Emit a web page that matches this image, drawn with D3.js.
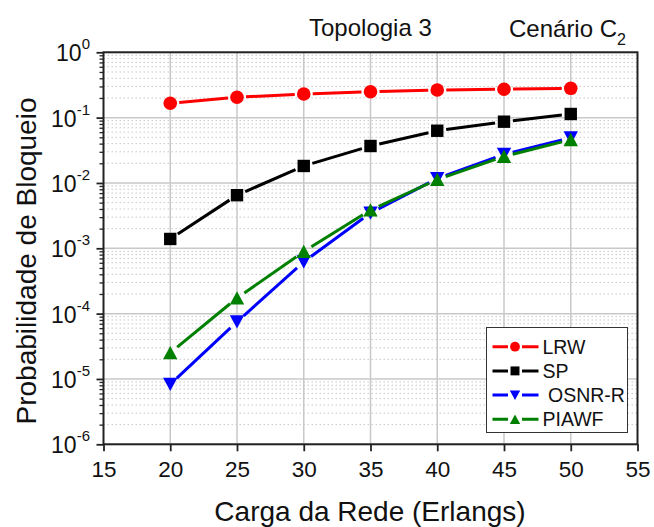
<!DOCTYPE html>
<html><head><meta charset="utf-8">
<script src="https://cdn.jsdelivr.net/npm/d3@7"></script>
<style>body{margin:0;background:#fff}svg{display:block;font-family:"Liberation Sans",Arial,sans-serif}</style>
</head><body><svg id="c" width="654" height="527"></svg>
<script>
const loads = [20, 25, 30, 35, 40, 45, 50];
const lrw   = [0.166, 0.205, 0.230, 0.249, 0.265, 0.272, 0.281];
const sp    = [0.00139, 0.0065, 0.0182, 0.0368, 0.063, 0.0867, 0.1137];
const osnr  = [8.3e-6, 7.5e-5, 6.2e-4, 3.47e-3, 0.0117, 0.0275, 0.049];
const piawf = [2.52e-5, 1.73e-4, 8.9e-4, 3.85e-3, 0.0113, 0.0255, 0.046];
const seriesNames = ["LRW", "SP", "OSNR-R", "PIAWF"];
const xTicks = [15, 20, 25, 30, 35, 40, 45, 50, 55];
const yExps = [0, -1, -2, -3, -4, -5, -6];

const series = [
  {name: seriesNames[0], vals: lrw,   color: "#ff0000", sym: "circle"},
  {name: seriesNames[1], vals: sp,    color: "#000000", sym: "square"},
  {name: seriesNames[2], vals: osnr,  color: "#0000ff", sym: "down"},
  {name: seriesNames[3], vals: piawf, color: "#008000", sym: "up"}
];

const L = 103.5, R = 637.5, T = 52.3, B = 444.3;
const x = d3.scaleLinear().domain([15, 55]).range([L, R]);
const y = d3.scaleLog().domain([1e-6, 1]).range([B, T]);
const svg = d3.select("#c");
const gridCol = "#c8c8c8";

// minor y grid (dotted)
const minorVals = [];
for (let e = -6; e < 0; e++) for (let m = 2; m <= 9; m++) minorVals.push(m * Math.pow(10, e));
svg.append("g").selectAll("line").data(minorVals).join("line")
  .attr("x1", L).attr("x2", R).attr("y1", d => y(d)).attr("y2", d => y(d))
  .attr("stroke", gridCol).attr("stroke-width", 1).attr("stroke-dasharray", "1.5,2.5");
// major y grid
svg.append("g").selectAll("line").data(yExps.map(e => Math.pow(10, e))).join("line")
  .attr("x1", L).attr("x2", R).attr("y1", d => y(d)).attr("y2", d => y(d))
  .attr("stroke", gridCol).attr("stroke-width", 1.5);
// vertical grid
svg.append("g").selectAll("line").data(xTicks.slice(1, -1)).join("line")
  .attr("x1", d => x(d)).attr("x2", d => x(d)).attr("y1", T).attr("y2", B)
  .attr("stroke", gridCol).attr("stroke-width", 1.5);

// axes
const xAxis = d3.axisBottom(x).tickValues(xTicks).tickSize(7).tickPadding(5).tickFormat(d3.format("d"));
const gx = svg.append("g").attr("transform", `translate(0,${B})`).call(xAxis);
gx.select(".domain").remove();
gx.selectAll(".tick line").attr("stroke", "#222").attr("stroke-width", 1.8);
gx.selectAll(".tick text").attr("font-size", 22.5).attr("fill", "#111")
  .attr("font-family", "Liberation Sans, Arial, sans-serif").attr("dy", "0.9em");

const yAxis = d3.axisLeft(y).tickValues(minorVals).tickSize(4).tickFormat("");
const gy = svg.append("g").attr("transform", `translate(${L},0)`).call(yAxis);
gy.select(".domain").remove();
gy.selectAll(".tick line").attr("stroke", "#222").attr("stroke-width", 1.3);
const yAxisMaj = d3.axisLeft(y).tickValues(yExps.map(e => Math.pow(10, e))).tickSize(7).tickFormat("");
const gy2 = svg.append("g").attr("transform", `translate(${L},0)`).call(yAxisMaj);
gy2.select(".domain").remove();
gy2.selectAll(".tick line").attr("stroke", "#222").attr("stroke-width", 1.8);
// y tick labels with superscripts
const yl = svg.append("g").selectAll("text").data(yExps).join("text")
  .attr("x", 90).attr("y", d => y(Math.pow(10, d)) + 9)
  .attr("text-anchor", "end").attr("font-size", 23).attr("fill", "#111");
yl.append("tspan").text("10");
yl.append("tspan").attr("font-size", 15).attr("dy", -12).text(d => d === 0 ? "0" : "-" + (-d));

// frame
svg.append("rect").attr("x", L).attr("y", T).attr("width", R - L).attr("height", B - T)
  .attr("fill", "none").attr("stroke", "#222").attr("stroke-width", 2);

// symbols
function drawSym(g, sym, cx, cy, col, s) {
  if (sym === "circle") g.append("circle").attr("cx", cx).attr("cy", cy).attr("r", 6.8 * s).attr("fill", col);
  else if (sym === "square") g.append("rect").attr("x", cx - 6.2 * s).attr("y", cy - 6.2 * s)
    .attr("width", 12.4 * s).attr("height", 12.4 * s).attr("fill", col);
  else if (sym === "down") g.append("path").attr("d",
    `M${cx - 7.2 * s},${cy - 6.5 * s}L${cx + 7.2 * s},${cy - 6.5 * s}L${cx},${cy + 6.8 * s}Z`).attr("fill", col);
  else g.append("path").attr("d",
    `M${cx - 7.2 * s},${cy + 6.5 * s}L${cx + 7.2 * s},${cy + 6.5 * s}L${cx},${cy - 6.8 * s}Z`).attr("fill", col);
}

const gap = 9;
series.forEach(s => {
  const g = svg.append("g");
  const pts = loads.map((l, i) => [x(l), y(s.vals[i])]);
  for (let i = 0; i < pts.length - 1; i++) {
    const [x1, y1] = pts[i], [x2, y2] = pts[i + 1];
    const dx = x2 - x1, dy = y2 - y1, len = Math.hypot(dx, dy);
    if (len <= 2 * gap) continue;
    const ux = dx / len, uy = dy / len;
    g.append("line").attr("x1", x1 + ux * gap).attr("y1", y1 + uy * gap)
      .attr("x2", x2 - ux * gap).attr("y2", y2 - uy * gap)
      .attr("stroke", s.color).attr("stroke-width", 3);
  }
  pts.forEach(p => drawSym(g, s.sym, p[0], p[1], s.color, 1));
});

// legend
const lg = svg.append("g");
lg.append("rect").attr("x", 486.5).attr("y", 327.5).attr("width", 141).attr("height", 105)
  .attr("fill", "#fff").attr("stroke", "#333").attr("stroke-width", 1);
series.forEach((s, i) => {
  const cy = 346.7 + i * 24.2;
  lg.append("line").attr("x1", 492.5).attr("x2", 538.5).attr("y1", cy).attr("y2", cy)
    .attr("stroke", s.color).attr("stroke-width", 3);
  lg.append("rect").attr("x", 508).attr("y", cy - 4).attr("width", 14).attr("height", 8).attr("fill", "#fff");
  drawSym(lg, s.sym, 515, cy, s.color, 0.72);
  lg.append("text").attr("x", s.name === "OSNR-R" ? 548 : 542.5).attr("y", cy + 7)
    .attr("font-size", 19.5).attr("fill", "#111").text(s.name);
});

// titles
svg.append("text").attr("x", 370).attr("y", 521).attr("text-anchor", "middle")
  .attr("font-size", 28).attr("fill", "#111").text("Carga da Rede (Erlangs)");
svg.append("text").attr("transform", "translate(36,261) rotate(-90)").attr("text-anchor", "middle")
  .attr("font-size", 28).attr("fill", "#111").text("Probabilidade de Bloqueio");
svg.append("text").attr("x", 309).attr("y", 36).attr("font-size", 24).attr("fill", "#111").text("Topologia 3");
const ct = svg.append("text").attr("x", 509).attr("y", 37).attr("font-size", 24).attr("fill", "#111");
ct.append("tspan").text("Cenário C");
ct.append("tspan").attr("font-size", 16).attr("dy", 8).text("2");
</script></body></html>
